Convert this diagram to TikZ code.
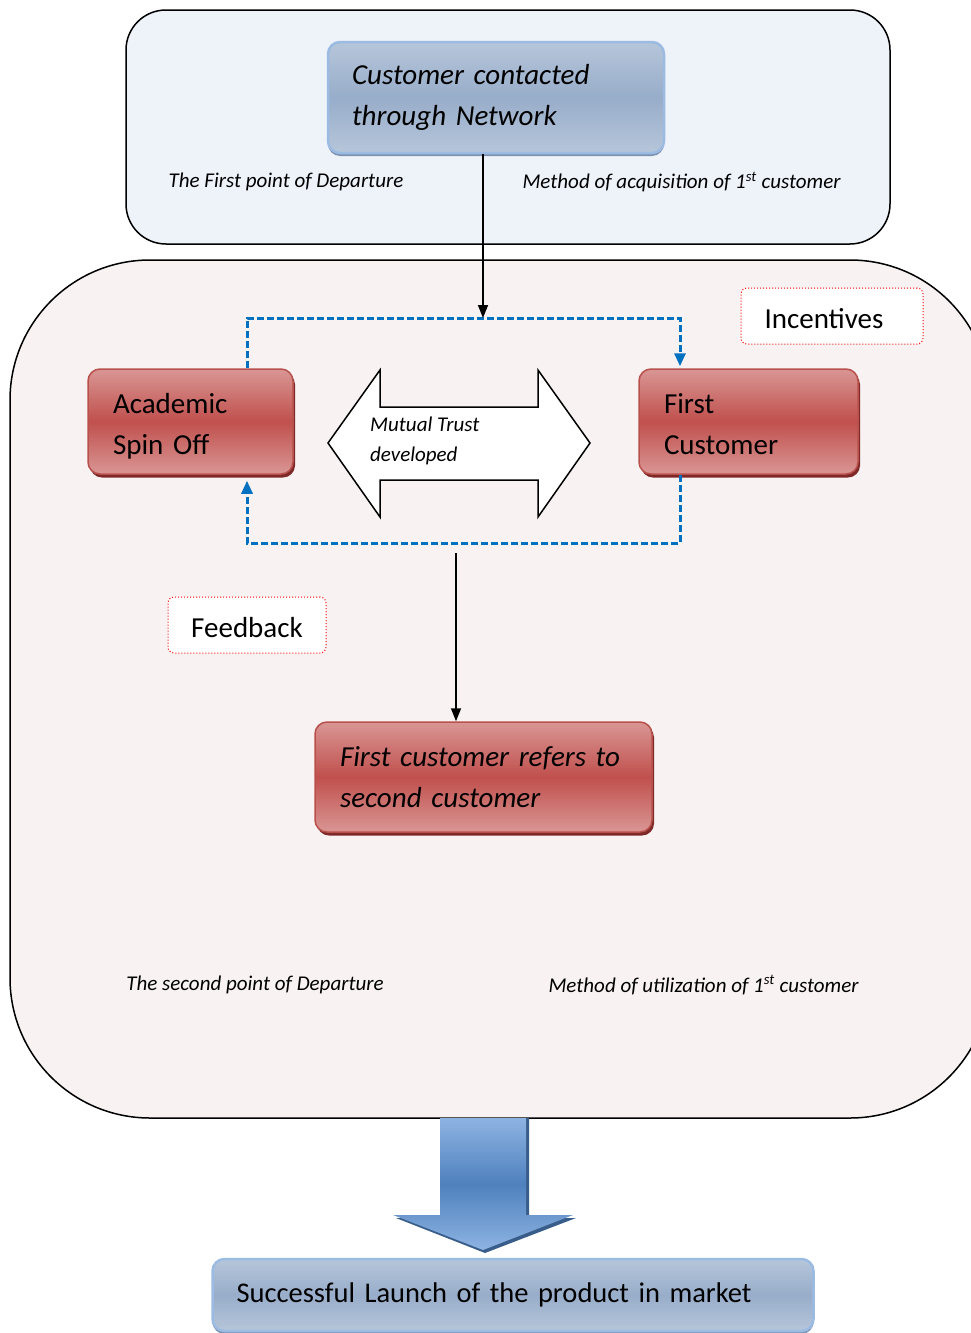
\documentclass[tikz,border=0pt]{standalone}
\usepackage{fontspec}
\setmainfont{Carlito}
\usetikzlibrary{shadows,arrows.meta}
\definecolor{topbg}{HTML}{EEF3FA}
\definecolor{bigbg}{HTML}{F8F2F2}
\definecolor{redlight}{HTML}{D99694}
\definecolor{redmid}{HTML}{C0504D}
\definecolor{redborder}{HTML}{B8504C}
\definecolor{redshadow}{HTML}{7F2A28}
\definecolor{bluelight}{HTML}{B6C6DA}
\definecolor{bluemid}{HTML}{98ADCA}
\definecolor{blueborder}{HTML}{9CBBE2}
\definecolor{blueshadow}{HTML}{7D92B0}
\definecolor{loopblue}{HTML}{0070C0}
\definecolor{arrowtop}{HTML}{8DB3E2}
\definecolor{arrowmid}{HTML}{4F81BD}
\definecolor{arrowshadow}{HTML}{385D8A}
\newcommand{\bigfont}{\fontsize{29}{41}\selectfont}
\begin{document}
\begin{tikzpicture}[x=1pt,y=-1pt,
  redbox/.style={rounded corners=12, draw=redborder, line width=1.5,
    top color=redlight, bottom color=redlight, middle color=redmid,
    general shadow={fill=redshadow, shadow xshift=2pt, shadow yshift=-3.5pt},
    align=left, inner xsep=25, inner ysep=0, font=\bigfont},
  bluebox/.style={rounded corners=12, draw=blueborder, line width=2.5,
    top color=bluelight, bottom color=bluelight, middle color=bluemid,
    general shadow={fill=blueshadow, shadow xshift=0pt, shadow yshift=-3pt},
    align=left, inner xsep=24, inner ysep=0, font=\bigfont},
  dotbox/.style={rounded corners=6, draw=red, dotted, line width=1, fill=white,
    font=\bigfont, text height=25pt, text depth=0pt},
  smalllabel/.style={font=\fontsize{21}{26}\selectfont\itshape, inner sep=0},
  blackarrow/.style={line width=1.5, -{Triangle[length=13pt,width=10pt]}},
  loopline/.style={draw=loopblue, line width=3, dash pattern=on 7pt off 3pt},
  looparrow/.style={loopline, -{Triangle[length=13pt,width=11pt]}, shorten >=2pt}
]
\useasboundingbox (0,0) rectangle (970,1333);

% containers
\draw[line width=1.5, fill=topbg, rounded corners=40] (126,10) rectangle (890,244);
\draw[line width=1.5, fill=bigbg, rounded corners=140] (10,260) rectangle (990,1118);

% top node
\node[bluebox, minimum width=336, minimum height=111, text width=288] (net) at (496,97.5)
  {\itshape Customer contacted\\\itshape through Network};
\node[smalllabel] (dep1) at (286,182) {The First point of Departure};
\node[smalllabel] (meth1) at (681.5,182) {Method of acquisition of 1\textsuperscript{st} customer};

% loop coordinates
\coordinate (c1) at (247,318);
\coordinate (c2) at (680,318);
\coordinate (c3) at (247,543);
\coordinate (c4) at (680,543);
\coordinate (mid) at (483,318);
\coordinate (dstart) at (456,553);

% red nodes
\node[redbox, minimum width=205, minimum height=105, text width=155,
  text height=24pt, text depth=41pt] (acad) at (190.5,421.5)
  {Academic\\Spin Off};
\node[redbox, minimum width=219, minimum height=105, text width=169,
  text height=24pt, text depth=41pt] (fc) at (748.5,421.5)
  {First\\Customer};
\node[redbox, minimum width=337, minimum height=110, text width=287] (refers) at (483.5,777)
  {\itshape First customer refers to\\\itshape second customer};

% dotted labels
\node[dotbox, minimum width=182, minimum height=56] (inc) at (832,316) {Incentives\kern16pt};
\node[dotbox, minimum width=158, minimum height=56] (fb) at (247,625) {Feedback};

% loop lines
\draw[looparrow] (acad.north -| c1) -- (c1) -- (c2) -- (fc.north -| c2);
\draw[looparrow, shorten >=6pt] (fc.south -| c4) -- (c4) -- (c3) -- (acad.south -| c3);

% arrow from top node
\draw[blackarrow] (mid |- net.south) -- (mid);

% double arrow
\draw[line width=1.5, fill=white, line join=miter]
  (328,443) -- (380,370) -- (380,407) -- (538,407) -- (538,370) -- (590,443)
  -- (538,517) -- (538,480) -- (380,480) -- (380,517) -- cycle;
\node[anchor=west, align=left, inner sep=0, font=\fontsize{21}{30}\selectfont\itshape] (trust) at (370,441)
  {Mutual Trust\\developed};

% arrow down to refers
\draw[blackarrow] (dstart) -- (dstart |- refers.north);

% bottom labels
\node[smalllabel] (dep2) at (255,985) {The second point of Departure};
\node[smalllabel] (meth2) at (703.5,985) {Method of utilization of 1\textsuperscript{st} customer};

% big blue arrow
\fill[arrowshadow] (443,1118) -- (529,1118) -- (529,1218) -- (576,1218) -- (485,1253)
  -- (396,1218) -- (443,1218) -- cycle;
\shade[top color=arrowtop, bottom color=arrowtop, middle color=arrowmid]
  (440,1118) -- (526,1118) -- (526,1215) -- (573,1215) -- (483,1250)
  -- (393,1215) -- (440,1215) -- cycle;

% bottom node
\node[bluebox, minimum width=600, minimum height=72, text width=553,
  font=\fontsize{28.5}{36}\selectfont] (launch) at (513,1295)
  {Successful Launch of the product in market};
\end{tikzpicture}
\end{document}
